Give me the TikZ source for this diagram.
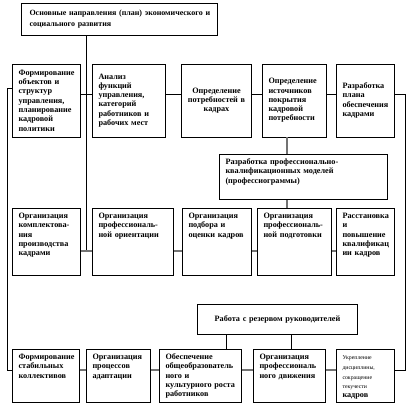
\documentclass[tikz,border=0pt]{standalone}
\usepackage{fontspec}
\setmainfont{Liberation Serif}
\usetikzlibrary{positioning}

\begin{document}
\begin{tikzpicture}[x=1pt, y=-1pt,
        box/.style={draw, line width=0.8pt, inner xsep=6pt, inner ysep=4pt, align=left,
          font=\bfseries\fontsize{8.2}{9.3}\selectfont},
        cbox/.style={box, minimum height=73pt},
        tbox/.style={box, anchor=north, text height=6pt, text depth=#1},
        link/.style={line width=0.7pt},
        glink/.style={draw=black!55, line width=1.1pt}
      ]
  \useasboundingbox (0,0) rectangle (410,415);
  % bus levels and vertical lines
  \coordinate (r1) at (0,94);
  \coordinate (r2) at (0,251);
  \coordinate (r3) at (0,370);
  \coordinate (spine) at (86,0);
  \coordinate (dx) at (287,0);

  \node[box, minimum height=32pt, inner xsep=4pt, text width=188pt,
    font=\bfseries\fontsize{8}{10.5}\selectfont] (plan) at (119.5,19)
    {\hspace*{4pt}Основные направления (план) экономического и\\\hspace*{4pt}социального развития};

  % first row
  \node[cbox, text width=56pt] (a1) at (46.5,100.5)
    {Формирование\\объектов и\\структур\\управления,\\планирование\\кадровой\\политики};
  \node[cbox, text width=61pt] (b1) at (129,100.5)
    {Анализ\\функций\\управления,\\категорий\\работников и\\рабочих мест};
  \node[cbox, text width=58pt, align=center] (c1) at (216.5,100.5)
    {Определение\\потребностей в\\кадрах};
  \node[cbox, text width=52pt] (d1) at (294.5,100.5)
    {Определение\\источников\\покрытия\\кадровой\\потребности};
  \node[cbox, text width=46pt] (e1) at (365.5,100.5)
    {Разработка\\плана\\обеспечения\\кадрами};

  \node[tbox=31pt, text width=156pt] (model) at (303.5,154)
    {Разработка профессионально-\\квалификационных моделей\\(профессиограммы)};

  % second row
  \node[tbox=53pt, text width=56pt] (a2) at (46.5,208)
    {Организация\\комплектова-\\ния\\производства\\кадрами};
  \node[tbox=53pt, text width=69pt] (b2) at (133,208)
    {Организация\\профессиональ-\\ной ориентации};
  \node[tbox=53pt, text width=57pt] (c2) at (217,208)
    {Организация\\подбора и\\оценки кадров};
  \node[tbox=53pt, text width=62pt] (d2) at (294.5,208)
    {Организация\\профессиональ-\\ной подготовки};
  \node[tbox=53pt, text width=46pt] (e2) at (365.5,208)
    {Расстановка\\и\\повышение\\квалификац\\ии кадров};

  \node[box, minimum height=30pt, text width=148pt, align=center] (reserve) at (277.5,319)
    {Работа с резервом руководителей};

  % third row
  \node[tbox=39pt, text width=55pt] (a3) at (46,349)
    {Формирование\\стабильных\\коллективов};
  \node[tbox=39pt, text width=52pt] (b3) at (118.5,349)
    {Организация\\процессов\\адаптации};
  \node[tbox=39pt, text width=70pt] (c3) at (200.5,349)
    {Обеспечение\\общеобразователь\\ного и\\культурного роста\\работников};
  \node[tbox=39pt, text width=60pt] (d3) at (289.5,349)
    {Организация\\профессиональ\\ного движения};
  \node[tbox=39pt, text width=46pt] (e3) at (365.5,349)
    {{\mdseries\fontsize{5.8}{9.8}\selectfont Укрепление\\дисциплины,\\сокращение\\текучести}\\кадров};

  % connectors
  \draw[link] (plan.south -| spine) -- (spine |- r2);
  \draw[link] (a1.east |- r1) -- (b1.west |- r1);
  \draw[link] (b1.east |- r1) -- (c1.west |- r1);
  \draw[link] (c1.east |- r1) -- (d1.west |- r1);
  \draw[link] (d1.east |- r1) -- (e1.west |- r1);
  \draw[link] (a1.west |- 0,88) -- ++(-5,0) |- (a3.west |- r3);
  \draw[link] (e1.east |- r1) -- ++(10,0) |- (e3.east |- r3);
  \draw[glink] (d1.south -| dx) -- (model.north -| dx);
  \draw[glink] (model.south -| dx) -- (d2.north -| dx);
  \draw[glink] (a2.east |- r2) -- (b2.west |- r2);
  \draw[glink] (b2.east |- r2) -- (c2.west |- r2);
  \draw[glink] (c2.east |- r2) -- (d2.west |- r2);
  \draw[glink] (d2.east |- r2) -- (e2.west |- r2);
  \draw[link] (reserve.south -| 226,0) -- (c3.north -| 226,0);
  \draw[link] (reserve.south -| 291,0) -- (d3.north -| 291,0);
  \draw[glink] (a3.east |- r3) -- (b3.west |- r3);
  \draw[glink] (b3.east |- r3) -- (c3.west |- r3);
  \draw[glink] (c3.east |- r3) -- (d3.west |- r3);
  \draw[glink] (d3.east |- r3) -- (e3.west |- r3);
\end{tikzpicture}
\end{document}
